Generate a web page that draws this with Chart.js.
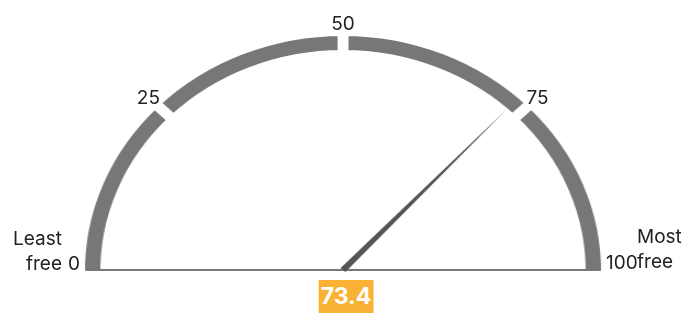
<!DOCTYPE html>
<html lang="en">
<head>
<meta charset="UTF-8">
<title>Freedom gauge</title>
<script src="https://cdn.jsdelivr.net/npm/chart.js"></script>
<style>
    body {
        margin: 0;
        background: #fff;
        font-family: Inter, "Noto Sans", sans-serif;
    }
    .wrap {
        position: relative;
        width: 691px;
        height: 313px;
        overflow: hidden;
    }
    #gauge {
        position: absolute;
        left: 43px;
        top: -3px;
        transform: scaleX(1.098);
        transform-origin: 300px 0;
    }
    .lbl {
        position: absolute;
        font-size: 19px;
        line-height: 25px;
        color: #222;
        white-space: nowrap;
    }
    .value {
        position: absolute;
        background: #f9b233;
        color: #fff;
        font-weight: 700;
        font-size: 23px;
        line-height: 33px;
        padding: 0 2px;
    }
</style>
</head>
<body>
<div class="wrap" id="wrap">
    <canvas id="gauge" width="600" height="313"></canvas>
</div>
<script>
// gauge bands and reading
const bandEdges = [0, 25, 50, 75, 100];
const tickLabels = ['0', '25', '50', '75', '100'];
const gaugeValue = [73.4];
const endLabels = ['Least\nfree', 'Most\nfree'];

const bandSizes = bandEdges.slice(1).map((e, i) => e - bandEdges[i]);
const bandNames = bandSizes.map((s, i) => bandEdges[i] + '-' + bandEdges[i + 1]);

const CANVAS_LEFT = 43, CANVAS_TOP = -3, ORIGIN_X = 300, SX = 1.098;
const BORDER = 10;

function toPage(x, y) {
    return [CANVAS_LEFT + ORIGIN_X + SX * (x - ORIGIN_X), CANVAS_TOP + y];
}

function valueAngle(meta, v) {
    const a0 = meta.data[0].startAngle;
    const a1 = meta.data[meta.data.length - 1].endAngle;
    const lo = bandEdges[0], hi = bandEdges[bandEdges.length - 1];
    return a0 + (a1 - a0) * (v - lo) / (hi - lo);
}

// baseline + needle
const needlePlugin = {
    id: 'needle',
    afterDatasetsDraw(chart) {
        const meta = chart.getDatasetMeta(0);
        const arc = meta.data[0];
        const {x, y, outerRadius, innerRadius} = arc;
        const ctx = chart.ctx;
        const rOut = outerRadius - BORDER / 2;
        const rIn = innerRadius + BORDER / 2;
        ctx.save();
        ctx.fillStyle = '#777';
        ctx.fillRect(x - rOut + 2, y - 2, 2 * (rOut - 2), 2);

        const a = valueAngle(meta, gaugeValue[0]);
        const tip = rIn - 1;
        const half = 3;
        ctx.fillStyle = '#555';
        ctx.beginPath();
        ctx.moveTo(x + Math.cos(a) * tip, y + Math.sin(a) * tip);
        ctx.lineTo(x + Math.cos(a + Math.PI / 2) * half, y - 1 + Math.sin(a + Math.PI / 2) * half);
        ctx.lineTo(x - Math.cos(a + Math.PI / 2) * half, y - 1 - Math.sin(a + Math.PI / 2) * half);
        ctx.closePath();
        ctx.fill();
        ctx.restore();
    }
};

const chart = new Chart(document.getElementById('gauge'), {
    type: 'doughnut',
    data: {
        labels: bandNames,
        datasets: [{
            data: bandSizes,
            backgroundColor: '#777777',
            borderColor: '#ffffff',
            borderWidth: BORDER,
            borderJoinStyle: 'miter',
            hoverOffset: 0
        }]
    },
    options: {
        responsive: false,
        animation: false,
        devicePixelRatio: 1,
        rotation: -91.2,
        circumference: 182.4,
        radius: 240,
        cutout: '90%',
        events: [],
        plugins: {
            legend: { display: false },
            tooltip: { enabled: false }
        }
    },
    plugins: [needlePlugin]
});

// text labels placed from the chart geometry
const wrap = document.getElementById('wrap');
const meta = chart.getDatasetMeta(0);
const arc = meta.data[0];
const rOut = arc.outerRadius - BORDER / 2;
const [cx, cy] = toPage(arc.x, arc.y);
const leftEdge = toPage(arc.x - rOut, 0)[0];
const rightEdge = toPage(arc.x + rOut, 0)[0];

function addLabel(text, cls) {
    const d = document.createElement('div');
    d.className = cls;
    d.innerHTML = text.replace('\n', '<br>');
    wrap.appendChild(d);
    return d;
}

bandEdges.forEach((v, i) => {
    const d = addLabel(tickLabels[i], 'lbl');
    if (i === 0) {
        d.style.left = (leftEdge - 5) + 'px';
        d.style.top = (cy - 20) + 'px';
        d.style.transform = 'translateX(-100%)';
    } else if (i === bandEdges.length - 1) {
        d.style.left = (rightEdge + 5) + 'px';
        d.style.top = (cy - 21) + 'px';
    } else {
        const a = valueAngle(meta, v);
        const r = rOut + 13;
        const [px, py] = toPage(arc.x + Math.cos(a) * r, arc.y + Math.sin(a) * r);
        d.style.left = px + 'px';
        d.style.top = py + 'px';
        d.style.transform = 'translate(-50%, -50%)';
    }
});

const least = addLabel(endLabels[0], 'lbl');
least.style.textAlign = 'right';
least.style.right = (691 - (leftEdge - 23)) + 'px';
least.style.top = (cy - 45) + 'px';

const most = addLabel(endLabels[1], 'lbl');
most.style.left = (rightEdge + 36) + 'px';
most.style.top = (cy - 47) + 'px';

const val = addLabel(String(gaugeValue[0]), 'value');
val.style.left = (cx + 3) + 'px';
val.style.top = (cy + 9) + 'px';
val.style.transform = 'translateX(-50%)';
</script>
</body>
</html>
